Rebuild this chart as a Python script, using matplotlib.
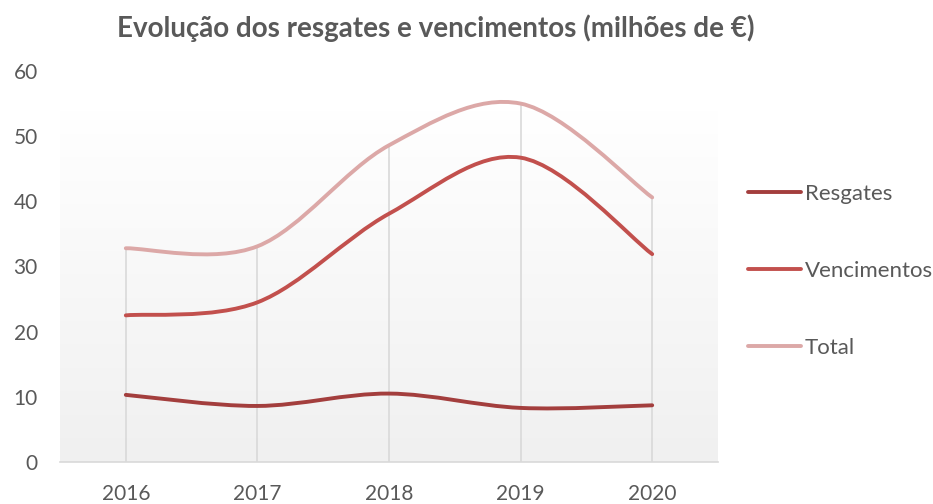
import numpy as np
import matplotlib
matplotlib.use("Agg")
import matplotlib.pyplot as plt
from matplotlib.path import Path
from matplotlib.patches import PathPatch
from matplotlib.lines import Line2D

years = ["2016", "2017", "2018", "2019", "2020"]
resgates = [10.3, 8.6, 10.5, 8.3, 8.7]
vencimentos = [22.5, 24.5, 38.1, 46.7, 31.9]
total = [32.8, 33.1, 48.6, 55.0, 40.6]

title = "Evolução dos resgates e vencimentos (milhões de €)"
series_names = ["Resgates", "Vencimentos", "Total"]
colors = ["#a33e3d", "#c2504d", "#dca8a7"]

plt.rcParams['font.family'] = ['Lato', 'DejaVu Sans']
TXT = "#595959"

fig = plt.figure(figsize=(9.33, 5.04), dpi=100)
ax = fig.add_axes([60/933, 42/504, 658/933, 391/504])
x = np.arange(len(years))
ax.set_xlim(-0.5, len(years) - 0.5)
ax.set_ylim(0, 60)

# gradient background: white at top, light grey at bottom
grad = np.linspace(0.0, 1.0, 256).reshape(-1, 1)
cmap = matplotlib.colors.LinearSegmentedColormap.from_list("g", ["#ffffff", "#f0f0f0"])
ax.imshow(grad, extent=(-0.5, len(years) - 0.5, 0, 54), aspect='auto',
          cmap=cmap, origin='upper', zorder=0, vmin=0, vmax=1)

# drop lines
ax.vlines(x, 0, total, color="#d9d9d9", lw=1.2, zorder=1)

def smooth_path(xs, ys):
    pts = np.column_stack([xs, ys]).astype(float)
    n = len(pts)
    verts = [pts[0]]
    codes = [Path.MOVETO]
    for i in range(n - 1):
        p0 = pts[i - 1] if i > 0 else pts[i]
        p1 = pts[i]
        p2 = pts[i + 1]
        p3 = pts[i + 2] if i + 2 < n else pts[i + 1]
        c1 = p1 + (p2 - p0) / 6.0
        c2 = p2 - (p3 - p1) / 6.0
        verts += [c1, c2, p2]
        codes += [Path.CURVE4] * 3
    return Path(verts, codes)

for vals, col in zip([resgates, vencimentos, total], colors):
    patch = PathPatch(smooth_path(x, vals), facecolor='none', edgecolor=col,
                      lw=2.8, capstyle='round', joinstyle='round', zorder=3)
    ax.add_patch(patch)

for s in ["left", "right", "top"]:
    ax.spines[s].set_visible(False)
ax.spines["bottom"].set_color("#d9d9d9")
ax.spines["bottom"].set_linewidth(1.2)
ax.set_xticks(x)
ax.set_xticklabels(years)
ax.set_yticks(np.arange(0, 61, 10))
ax.tick_params(axis='both', length=0, labelsize=15, labelcolor=TXT)
ax.tick_params(axis='y', pad=16)
ax.tick_params(axis='x', pad=16)

fig.text(436/933, 1 - 28/504, title, ha='center', va='center',
         fontsize=20, fontweight='bold', color=TXT)

handles = [Line2D([0], [0], color=c, lw=2.8, solid_capstyle='round') for c in colors]
leg = fig.legend(handles, series_names, loc='center left',
                 bbox_to_anchor=(728/933, 1 - 271/504), frameon=False,
                 fontsize=16, labelcolor=TXT, handlelength=2.4,
                 handletextpad=0.15, labelspacing=2.57)

fig.savefig("out.png", dpi=100)
